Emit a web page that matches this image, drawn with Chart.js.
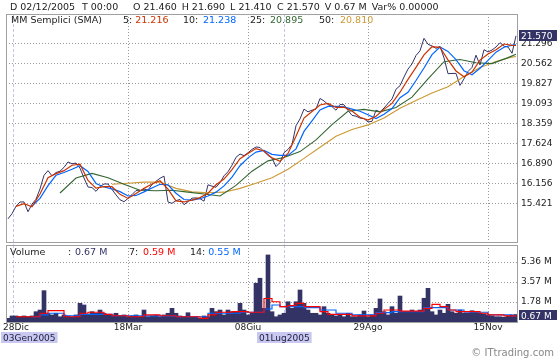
<!DOCTYPE html>
<html><head><meta charset="utf-8">
<script src="https://cdn.jsdelivr.net/npm/chart.js@4.4.1/dist/chart.umd.min.js"></script>
<style>
html,body{margin:0;padding:0;background:#fff;}
#wrap{position:relative;width:560px;height:360px;overflow:hidden;}
canvas{position:absolute;left:0;top:0;}
</style></head><body>
<div id="wrap"><canvas id="cp" width="560" height="360"></canvas><canvas id="cv" width="560" height="360"></canvas></div>
<script>
// ---------- DATA (one value every 2 trading sessions) ----------
const close = [14.85,15.04,15.31,15.47,15.47,15.11,15.39,15.57,15.95,16.45,
 16.62,16.43,16.55,16.60,16.74,16.94,16.87,16.90,16.71,16.35,
 16.02,16.00,15.86,16.04,16.13,16.13,15.93,15.73,15.55,15.48,
 15.60,15.74,15.89,15.88,15.94,15.91,16.11,16.23,16.34,16.42,
 15.47,15.42,15.52,15.56,15.37,15.48,15.61,15.62,15.59,15.50,
 16.10,16.05,16.01,16.18,16.43,16.58,16.82,17.11,17.23,17.17,
 17.28,17.40,17.49,17.47,17.32,17.18,17.08,16.77,16.92,17.28,
 17.40,17.58,18.27,18.52,18.88,18.78,18.84,18.88,19.27,19.18,
 19.05,18.97,18.84,19.05,19.04,18.83,18.65,18.62,18.55,18.53,
 18.41,18.43,18.84,18.78,18.92,19.09,19.25,19.61,19.74,20.06,
 20.35,20.54,20.85,21.02,21.48,21.26,21.20,21.11,21.18,20.76,
 20.18,20.19,20.19,19.75,19.99,20.26,20.41,20.86,20.50,21.06,
 20.98,21.05,21.16,21.32,21.19,21.16,20.93,21.57];

const sma5Idx = [2,4,6,8,10,12,14,16,18,20,22,24,26,28,30,32,34,36,38,40,42,44,46,48,50,52,54,56,58,60,62,64,66,68,70,72,74,76,78,80,82,84,86,88,90,92,94,96,98,100,102,104,106,108,110,112,114,116,118,120,122,124,126,127];
const sma5 = [15.31,15.41,15.29,15.76,16.36,16.51,16.62,16.82,16.86,16.26,15.98,16.03,16.03,15.75,15.60,15.78,15.97,16.13,16.25,15.94,15.51,15.47,15.54,15.63,15.79,16.10,16.31,16.66,17.06,17.25,17.43,17.34,17.09,16.96,17.25,17.88,18.55,18.79,19.03,19.09,18.94,18.95,18.81,18.58,18.48,18.62,18.87,19.09,19.50,19.97,20.41,20.87,21.17,21.15,20.69,20.28,20.07,20.24,20.68,20.90,21.06,21.27,21.22,21.216];

const sma10Idx = [6,8,10,12,14,16,18,20,22,24,26,28,30,32,34,36,38,40,42,44,46,48,50,52,54,56,58,60,62,64,66,68,70,72,74,76,78,80,82,84,86,88,90,92,94,96,98,100,102,104,106,108,110,112,114,116,118,120,122,124,126,127];
const sma10 = [15.32,15.60,16.07,16.45,16.55,16.67,16.80,16.59,16.15,16.02,15.95,15.85,15.69,15.71,15.84,15.98,16.12,16.10,15.79,15.56,15.54,15.59,15.69,15.83,16.06,16.38,16.80,17.09,17.30,17.36,17.22,17.18,17.18,17.42,18.06,18.45,18.85,18.98,18.98,18.96,18.88,18.80,18.67,18.53,18.69,18.90,19.30,19.50,19.93,20.39,20.88,21.16,21.00,20.70,20.29,20.14,20.38,20.67,20.97,21.15,21.23,21.238];

const sma25Idx = [13,17,21,25,29,33,37,41,45,49,53,57,61,65,69,73,77,81,85,89,93,97,101,105,109,113,117,121,125,127];
const sma25 = [15.80,16.35,16.52,16.36,16.12,15.90,15.88,15.90,15.83,15.76,15.69,16.08,16.60,16.98,17.10,17.32,17.75,18.31,18.80,18.87,18.78,18.94,19.32,19.99,20.62,20.70,20.58,20.55,20.77,20.895];

const sma50Idx = [26,30,34,38,42,46,50,54,58,62,66,70,74,78,82,86,90,94,98,102,106,110,114,118,122,126,127];
const sma50 = [16.12,16.16,16.20,16.20,15.97,15.84,15.81,15.83,15.97,16.16,16.36,16.67,17.07,17.48,17.88,18.13,18.30,18.55,18.91,19.20,19.47,19.70,20.08,20.41,20.63,20.79,20.81];

const volume = [0.33,0.54,0.54,0.47,0.54,0.47,0.54,0.92,1.07,2.80,
 0.78,0.63,0.78,0.47,0.63,0.54,0.42,0.63,1.67,1.52,
 0.63,0.92,0.78,1.07,0.78,0.63,0.63,0.78,0.54,0.63,
 0.47,0.54,0.63,0.47,1.07,0.47,0.54,0.63,0.47,0.63,
 0.78,1.22,0.78,0.54,0.47,0.83,0.47,0.47,0.33,0.54,
 0.47,1.22,0.92,1.07,0.63,1.07,0.92,0.92,1.67,1.07,
 0.63,0.78,3.46,3.91,1.22,5.99,0.92,0.47,0.63,0.78,
 1.81,1.22,1.81,2.86,1.67,1.07,0.78,0.78,0.63,1.37,
 0.78,0.63,0.54,0.63,0.47,0.78,0.47,0.47,0.63,0.98,
 0.47,0.63,1.22,2.06,0.92,0.63,1.37,0.78,2.32,0.92,
 0.92,1.07,0.92,1.07,2.12,3.01,0.92,0.63,1.07,0.78,
 1.58,0.92,0.78,1.07,0.78,0.78,1.01,0.92,0.78,0.72,
 0.63,0.54,0.47,0.47,0.42,0.54,0.63,0.67];

const volMA7Idx = [2,4,6,8,10,12,14,16,18,20,22,24,26,28,30,32,34,36,38,40,42,44,46,48,50,52,54,56,58,60,62,64,66,68,70,72,74,76,78,80,82,84,86,88,90,92,94,96,98,100,102,104,106,108,110,112,114,116,118,120,122,124,126,127];
const volMA7 = [0.47,0.47,0.47,0.78,1.01,1.01,0.47,0.47,0.78,0.87,0.87,0.69,0.56,0.56,0.47,0.47,0.63,0.63,0.56,0.56,0.47,0.47,0.47,0.33,0.63,0.87,0.87,0.92,0.92,0.87,0.87,2.10,1.81,1.37,1.46,1.67,1.37,1.37,0.92,0.69,0.69,0.69,0.54,0.54,0.54,0.78,1.07,1.07,0.98,0.98,0.98,1.22,1.58,1.37,1.07,0.92,0.92,0.92,0.78,0.63,0.63,0.54,0.54,0.59];

const volMA14Idx = [6,8,10,12,14,16,18,20,22,24,26,28,30,32,34,36,38,40,42,44,46,48,50,52,54,56,58,60,62,64,66,68,70,72,74,76,78,80,82,84,86,88,90,92,94,96,98,100,102,104,106,108,110,112,114,116,118,120,122,124,126,127];
const volMA14 = [0.47,0.63,0.78,0.78,0.54,0.54,0.69,0.69,0.69,0.69,0.56,0.56,0.56,0.56,0.54,0.54,0.54,0.54,0.47,0.47,0.47,0.47,0.78,0.78,0.78,0.78,0.87,0.87,0.87,1.16,1.52,1.37,1.37,1.37,1.28,1.28,1.07,1.07,0.78,0.78,0.63,0.63,0.63,0.83,0.83,0.92,0.92,0.92,0.92,1.28,1.28,1.28,1.07,1.07,0.87,0.87,0.87,0.63,0.63,0.63,0.55,0.55];

const priceTicks = [15.421,16.156,16.890,17.624,18.359,19.093,19.827,20.562,21.296];
const volTicks = [1.78,3.57,5.36];
const xTickIdx = [0,30,60,90,120];
const xTickLabels = ['28Dic','18Mar','08Giu','29Ago','15Nov'];
const markerIdx = [1.25,69];
const markerLabels = ['03Gen2005','01Lug2005'];
const quoteKeys = ['D','T','O','H','L','C','V','Var%'];
const quoteVals = ['02/12/2005','00:00','21.460','21.690','21.410','21.570','0.67 M','0.00000'];
const smaPeriods = [5,10,25,50];
const smaLast = [21.216,21.238,20.895,20.810];
const volLast = 0.67;
const volMAPeriods = [7,14];
const volMALast = [0.59,0.55];

// ---------- STYLE ----------
const FONT = '"DejaVu Sans", sans-serif';
const NAVY = '#333366';
const smaColors = ['#cc3300','#0066ff','#336633','#cc9933'];
const volMAColors = ['#ff0000','#0066ff'];
const GRID = '#9a9a9a';
const pts = (idx, vals) => idx.map((x, k) => ({x: x, y: vals[k]}));

function txt(ctx, s, x, y, color, size, align) {
  ctx.fillStyle = color; ctx.font = size + 'px ' + FONT;
  ctx.textAlign = align || 'left'; ctx.textBaseline = 'alphabetic';
  ctx.fillText(s, x, y);
  return x + ctx.measureText(s).width;
}
// key/value pairs laid out left to right, each key no earlier than its preferred x
function pairs(ctx, keys, vals, keyX, valX, y, size, keyColor, valColors, kvGap, minGap) {
  let end = 0;
  keys.forEach((k, i) => {
    const kx = Math.max(keyX[i], end + minGap);
    const ke = txt(ctx, k, kx, y, keyColor, size);
    const vx = Math.max(valX[i], ke + kvGap);
    end = txt(ctx, vals[i], vx, y, valColors[i], size);
  });
}
function markers(chart, y0, y1) {
  const ctx = chart.ctx, xs = chart.scales.x;
  ctx.save(); ctx.strokeStyle = '#c4c4ee'; ctx.lineWidth = 1; ctx.setLineDash([3,2]);
  markerIdx.forEach(m => {
    const px = Math.round(xs.getPixelForValue(m)) + 0.5;
    ctx.beginPath(); ctx.moveTo(px, y0); ctx.lineTo(px, y1); ctx.stroke();
  });
  ctx.restore();
}
function border(chart) {
  const ctx = chart.ctx, a = chart.chartArea;
  ctx.save(); ctx.strokeStyle = '#a0a0a0'; ctx.lineWidth = 1; ctx.setLineDash([]);
  ctx.strokeRect(a.left + 0.5, a.top + 0.5, a.right - a.left, a.bottom - a.top);
  ctx.restore();
}
function xAxis() {
  return {type:'linear', min:-0.5, max:127.25, offset:false, display:true,
    afterBuildTicks: s => { s.ticks = xTickIdx.slice(1).map(v => ({value:v})); },
    afterFit: s => { s.height = 0; },
    ticks:{display:false}, border:{display:false, dash:[1,2]},
    grid:{color:GRID, lineWidth:1, drawTicks:false, offset:false}};
}
function yAxis(min, max, ticks, fmt) {
  return {type:'linear', position:'right', min:min, max:max,
    afterBuildTicks: s => { s.ticks = ticks.map(v => ({value:v})); },
    afterFit: s => { s.width = 43; },
    ticks:{font:{family:'DejaVu Sans', size:9}, color:'#222', padding:4, autoSkip:false, callback: fmt},
    border:{display:false, dash:[1,2]},
    grid:{color:GRID, lineWidth:1, drawTicks:false}};
}
const lineDs = (data, color, w, extra) => Object.assign({type:'line', data:data, borderColor:color, borderWidth:w, pointRadius:0, tension:0, fill:false}, extra || {});

// ---------- PRICE PANEL ----------
new Chart(document.getElementById('cp'), {
  type:'line',
  data:{datasets:[
    lineDs(pts(sma5Idx, sma5), smaColors[0], 1.2),
    lineDs(pts(sma10Idx, sma10), smaColors[1], 1.2),
    lineDs(pts(sma25Idx, sma25), smaColors[2], 1.1),
    lineDs(pts(sma50Idx, sma50), smaColors[3], 1.1),
    lineDs(close.map((y, i) => ({x:i, y:y})), NAVY, 1)
  ]},
  options:{responsive:false, animation:false, devicePixelRatio:1, events:[],
    layout:{padding:{left:6, top:14, right:0, bottom:118}},
    plugins:{legend:{display:false}, tooltip:{enabled:false}},
    scales:{x:xAxis(), y:yAxis(14.0, 22.372, priceTicks, v => v.toFixed(3))}},
  plugins:[{id:'pricePanel',
    beforeDatasetsDraw(chart) { markers(chart, 14, 245); },
    afterDraw(chart) {
      const ctx = chart.ctx;
      border(chart);
      pairs(ctx, quoteKeys, quoteVals, [10,82,133,181,230,277,323,371], [18,90,140,189,236,285,330,397],
            10, 9.5, '#222', quoteVals.map(() => '#222'), 3, 5);
      txt(ctx, 'MM Semplici (SMA)', 11, 22.5, '#222', 9.5);
      pairs(ctx, smaPeriods.map(p => p + ':'), smaLast.map(v => v.toFixed(3)), [123,183,250,319], [135,203,270,340],
            22.5, 9.5, '#222', smaColors, 3, 6);
      const yb = chart.scales.y.getPixelForValue(close[close.length - 1]);
      ctx.fillStyle = NAVY; ctx.fillRect(519, Math.round(yb - 5.5), 38, 11);
      txt(ctx, close[close.length - 1].toFixed(3), 521, Math.round(yb - 5.5) + 9, '#fff', 9);
    }}]
});

// ---------- VOLUME PANEL ----------
new Chart(document.getElementById('cv'), {
  type:'bar',
  data:{datasets:[
    lineDs(pts(volMA7Idx, volMA7), volMAColors[0], 1.2, {stepped:true}),
    lineDs(pts(volMA14Idx, volMA14), volMAColors[1], 1.2, {stepped:true}),
    {type:'bar', data:volume.map((y, i) => ({x:i, y:y})), backgroundColor:NAVY, borderWidth:0, barPercentage:1, categoryPercentage:1}
  ]},
  options:{responsive:false, animation:false, devicePixelRatio:1, events:[],
    layout:{padding:{left:6, top:245, right:0, bottom:38}},
    plugins:{legend:{display:false}, tooltip:{enabled:false}},
    scales:{x:xAxis(), y:yAxis(0, 6.879, volTicks, v => v.toFixed(2) + ' M')}},
  plugins:[{id:'volPanel',
    beforeDatasetsDraw(chart) { markers(chart, 245, 322); },
    afterDraw(chart) {
      const ctx = chart.ctx, xs = chart.scales.x;
      border(chart);
      txt(ctx, 'Volume', 10, 255, '#222', 9.5);
      pairs(ctx, [':'].concat(volMAPeriods.map(p => p + ':')),
            [volLast.toFixed(2) + ' M'].concat(volMALast.map(v => v.toFixed(2) + ' M')),
            [68,129,190], [75,143,205], 255, 9.5, '#222', [NAVY].concat(volMAColors), 3, 6);
      const yb = chart.scales.y.getPixelForValue(volume[volume.length - 1]);
      ctx.fillStyle = NAVY; ctx.fillRect(519, Math.round(yb - 5), 38, 10);
      txt(ctx, volLast.toFixed(2) + ' M', 521, Math.round(yb - 5) + 8.5, '#fff', 9);
      // date labels
      ctx.font = '9px ' + FONT;
      xTickIdx.forEach((v, i) => {
        ctx.font = '9px ' + FONT;
        const w = ctx.measureText(xTickLabels[i]).width;
        const left = Math.max(3, xs.getPixelForValue(v) - w / 2);
        txt(ctx, xTickLabels[i], left, 330, '#222', 9);
      });
      // marker badges
      markerIdx.forEach((m, i) => {
        ctx.font = '9px ' + FONT;
        const w = ctx.measureText(markerLabels[i]).width + 4;
        const left = Math.max(1, Math.round(xs.getPixelForValue(m) - w / 2));
        ctx.fillStyle = '#c8c8f0'; ctx.fillRect(left, 332, w, 11);
        txt(ctx, markerLabels[i], left + 2, 341, '#222244', 9);
      });
      txt(ctx, '\u00A9 ITtrading.com', 554, 356, '#888', 10, 'right');
    }}]
});
</script>
</body></html>
